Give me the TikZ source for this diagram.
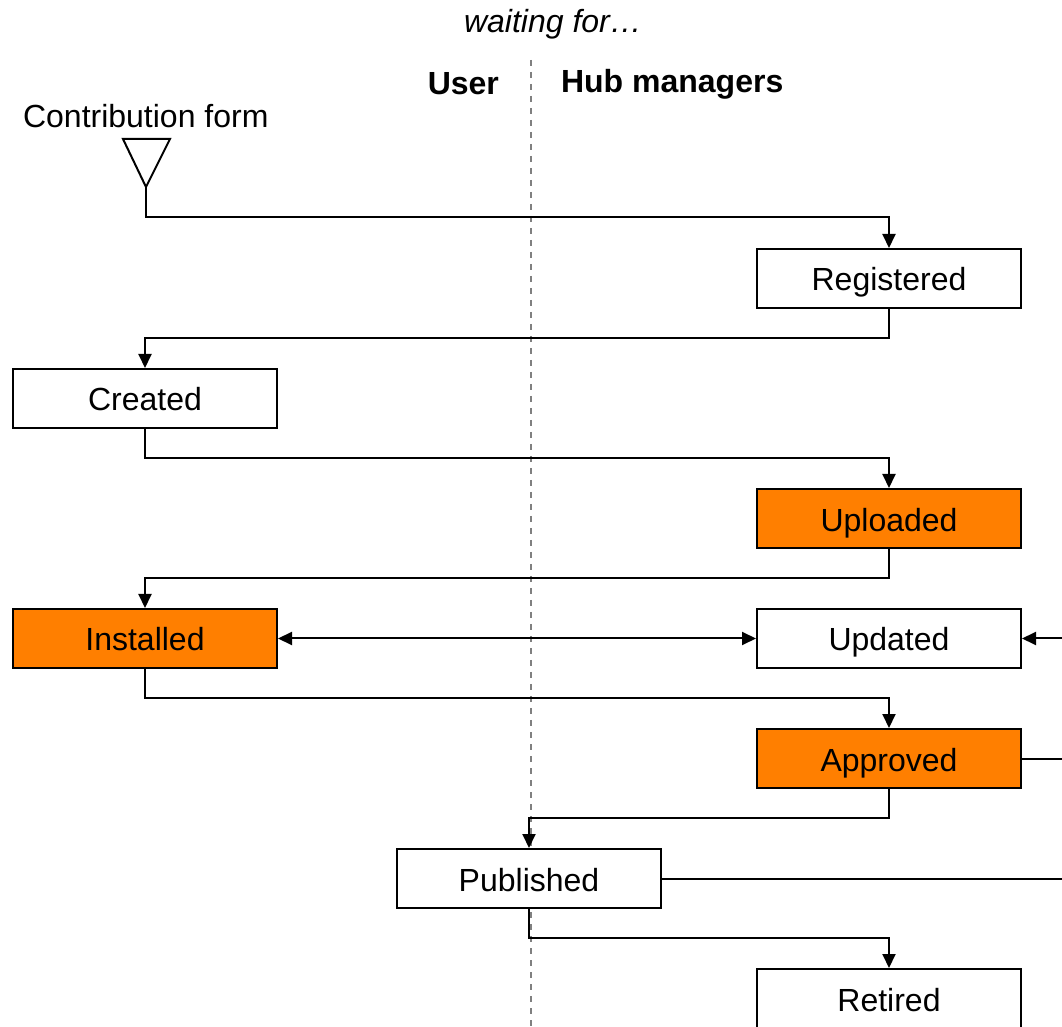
\documentclass[tikz,border=0pt]{standalone}
\usepackage{fontspec}
\setmainfont{Liberation Sans}
\usetikzlibrary{arrows.meta}
\definecolor{stateorange}{HTML}{FF7F00}
\begin{document}
\begin{tikzpicture}[x=0.5pt,y=-0.5pt,
  every node/.style={font=\fontsize{16}{19}\selectfont},
  state/.style={draw=black,line width=1pt,minimum width=132pt,minimum height=29.5pt,inner sep=0pt,fill=white,text height=13.5pt,text depth=1pt},
  hot/.style={state,fill=stateorange},
  conn/.style={line width=1pt,-{Triangle[length=7pt,width=6.5pt]}},
  plain/.style={line width=1pt},
  lane/.style={gray,dashed,line width=0.6pt}]
\useasboundingbox (0,0) rectangle (1062,1027);
\clip (0,0) rectangle (1062,1027);
% headers
\node (wait) at (553,24) {\itshape waiting for…};
\node[anchor=east] (user) at (506,84) {\bfseries User};
\node[anchor=west] (hub) at (554,84) {\bfseries Hub managers};
\draw[lane] (531,60) -- (531,1027);
% start
\node[anchor=west] (cf) at (16,116) {Contribution form};
\coordinate (tl) at (123,139);
\coordinate (tr) at (170,139);
\coordinate (tip) at (146,187);
\draw[line width=1pt,fill=white] (tl) -- (tr) -- (tip) -- cycle;
% states
\node[state] (reg) at (889,278.5) {Registered};
\node[state] (cre) at (145,398.5) {Created};
\node[hot] (upl) at (889,518.5) {Uploaded};
\node[hot] (ins) at (145,638.5) {Installed};
\node[state] (upd) at (889,638.5) {Updated};
\node[hot] (app) at (889,758.5) {Approved};
\node[state] (pub) at (529,878.5) {Published};
\node[state] (ret) at (889,998.5) {Retired};
% edge coordinates
\coordinate (eupd) at (1062,638.5);
\coordinate (eapp) at (1062,758.5);
\coordinate (epub) at (1062,878.5);
% connectors
\draw[conn] (tip) |- (889,217) -- (reg.north);
\draw[conn] (reg.south) |- (145,338) -- (cre.north);
\draw[conn] (cre.south) |- (889,458) -- (upl.north);
\draw[conn] (upl.south) |- (145,578) -- (ins.north);
\draw[line width=1pt,{Triangle[length=7pt,width=6.5pt]}-{Triangle[length=7pt,width=6.5pt]}] (ins.east) -- (upd.west);
\draw[conn] (ins.south) |- (889,698) -- (app.north);
\draw[conn] (app.south) |- (529,818) -- (pub.north);
\draw[conn] (pub.south) |- (889,938) -- (ret.north);
\draw[plain] (app.east) -- (eapp);
\draw[plain] (pub.east) -- (epub);
\draw[conn] (eupd) -- (upd.east);
\end{tikzpicture}
\end{document}
